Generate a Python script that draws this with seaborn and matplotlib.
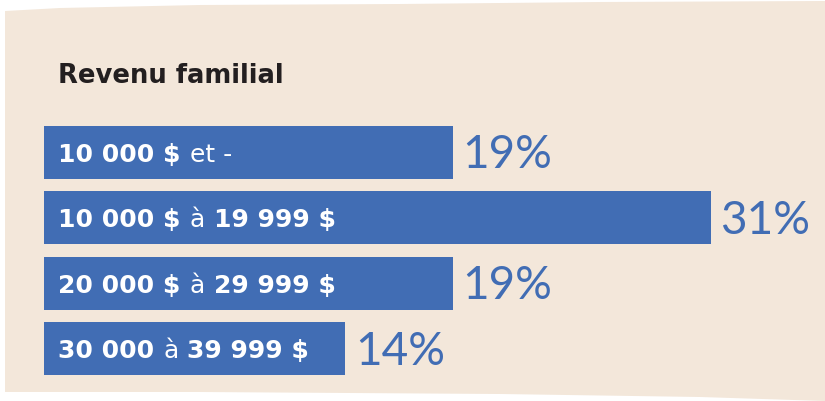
import numpy as np
import matplotlib
matplotlib.use("Agg")
import matplotlib.pyplot as plt
from matplotlib.patches import Polygon
import seaborn as sns
import pandas as pd

# données
categories = ["10 000 $ et -", "10 000 $ à 19 999 $", "20 000 $ à 29 999 $", "30 000 à 39 999 $"]
pourcentages = [19, 31, 19, 14]
pct_labels = ["19%", "31%", "19%", "14%"]
# morceaux de texte (texte, gras?)
label_parts = [
    [("10 000 $", True), ("et -", False)],
    [("10 000 $", True), ("à", False), ("19 999 $", True)],
    [("20 000 $", True), ("à", False), ("29 999 $", True)],
    [("30 000", True), ("à", False), ("39 999 $", True)],
]

BEIGE = "#f3e7da"
BLEU = "#416db4"
NOIR = "#231f20"

sns.set_theme(style="white")
plt.rcParams["font.family"] = ["DejaVu Sans"]

W, H = 825, 402
fig = plt.figure(figsize=(W / 100, H / 100), dpi=100)
fig.patch.set_facecolor("white")

# fond beige aux bords irréguliers (en pixels)
bord = [(5, 12), (60, 9), (200, 6), (400, 5), (600, 3), (825, 2),
        (825, 402), (700, 398), (500, 395), (200, 393), (5, 393)]
bord = [(x / W, 1 - y / H) for x, y in bord]
fig.patches.append(Polygon(bord, closed=True, transform=fig.transFigure,
                           facecolor=BEIGE, edgecolor="none", zorder=-10))

# axes : 1 % = 21.5 px, barres espacées de 65.3 px
x0, px_per = 44, 21.5
top, bot = 120.8, 382.2
ax = fig.add_axes([x0 / W, 1 - bot / H, (W - x0) / W, (bot - top) / H])
ax.set_facecolor("none")

df = pd.DataFrame({"cat": categories, "val": pourcentages})
sns.barplot(data=df, x="val", y="cat", orient="h", color=BLEU, saturation=1,
            width=0.81, linewidth=0, ax=ax)
ax.set_xlim(0, (W - x0) / px_per)
ax.set_ylim(3.5, -0.5)
ax.axis("off")

# titre
fig.text(58 / W, 1 - 83 / H, "Revenu familial", fontsize=18.6, fontweight="bold",
         color=NOIR, va="baseline", ha="left")

# libellés dans les barres
ytr = ax.get_yaxis_transform()
for i, parts in enumerate(label_parts):
    prev = None
    for txt, bold in parts:
        if prev is None:
            t = ax.annotate(txt, xy=(0, i), xycoords=ytr, xytext=(14, -8.5),
                            textcoords="offset pixels")
        else:
            t = ax.annotate(txt, xy=(1, i), xycoords=(prev, ytr), xytext=(9, -8.5),
                            textcoords="offset pixels")
        t.set(color="white", fontsize=18, fontweight="bold" if bold else "normal",
              va="baseline", ha="left")
        prev = t

# pourcentages
for i, (v, lab) in enumerate(zip(pourcentages, pct_labels)):
    ax.annotate(lab, xy=(v, i), xytext=(10, -2), textcoords="offset pixels",
                color=BLEU, fontsize=33, fontweight="normal", va="center", ha="left",
                family=["Lato", "DejaVu Sans"])

fig.savefig("out.png", dpi=100)
